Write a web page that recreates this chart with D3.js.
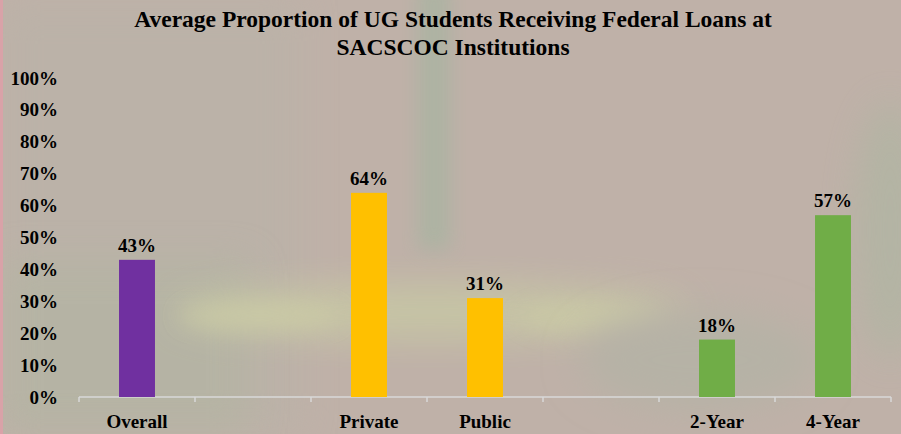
<!DOCTYPE html>
<html>
<head>
<meta charset="utf-8">
<script src="https://cdn.jsdelivr.net/npm/d3@7"></script>
<style>
  body { margin: 0; background: #bdb0a7; }
  svg { display: block; font-family: "Liberation Serif", "DejaVu Serif", serif; font-weight: bold; }
</style>
</head>
<body>
<div id="chart"></div>
<script>
// Chart data
var categories = ["Overall", "gap1", "Private", "Public", "gap2", "2-Year", "4-Year"];
var labels = ["Overall", "", "Private", "Public", "", "2-Year", "4-Year"];
var values = [43, null, 64, 31, null, 18, 57];
var yTicks = [0, 10, 20, 30, 40, 50, 60, 70, 80, 90, 100];
var titleLines = ["Average Proportion of UG Students Receiving Federal Loans at", "SACSCOC Institutions"];

// bar colours by category
var barColors = {"Overall": "#7030a0", "Private": "#ffc000", "Public": "#ffc000", "2-Year": "#70ad47", "4-Year": "#70ad47"};

var svgWidth = 901;
var svgHeight = 434;

var margin = {top: 78, right: 10, bottom: 37, left: 79};
var width = 891 - margin.left;
var height = 397 - margin.top;

var svg = d3.select("#chart")
  .append("svg")
  .attr("width", svgWidth)
  .attr("height", svgHeight);

// Blurry photo-like background
var defs = svg.append("defs");
defs.append("filter").attr("id", "blur").attr("x", "-50%").attr("y", "-50%").attr("width", "200%").attr("height", "200%")
  .append("feGaussianBlur").attr("stdDeviation", 18);
defs.append("filter").attr("id", "blur2").attr("x", "-50%").attr("y", "-50%").attr("width", "200%").attr("height", "200%")
  .append("feGaussianBlur").attr("stdDeviation", 10);

var bg = svg.append("g");
bg.append("rect").attr("width", svgWidth).attr("height", svgHeight).attr("fill", "#bfb1a8");
bg.append("rect").attr("x", 0).attr("y", 0).attr("width", 300).attr("height", 434).attr("fill", "#b9b3a8").attr("opacity", 0.6).attr("filter", "url(#blur)");
bg.append("rect").attr("x", 0).attr("y", 260).attr("width", 250).attr("height", 174).attr("fill", "#b2b5a2").attr("opacity", 0.6).attr("filter", "url(#blur)");
bg.append("rect").attr("x", 418).attr("y", -20).attr("width", 32).attr("height", 270).attr("fill", "#a8b4a1").attr("opacity", 0.8).attr("filter", "url(#blur2)");
bg.append("ellipse").attr("cx", 430).attr("cy", 312).attr("rx", 260).attr("ry", 28).attr("fill", "#c8c9a4").attr("opacity", 0.8).attr("filter", "url(#blur)");
bg.append("ellipse").attr("cx", 260).attr("cy", 316).attr("rx", 80).attr("ry", 14).attr("fill", "#cdcda6").attr("opacity", 0.6).attr("filter", "url(#blur2)");
bg.append("ellipse").attr("cx", 590).attr("cy", 318).attr("rx", 70).attr("ry", 16).attr("fill", "#cdcda6").attr("opacity", 0.5).attr("filter", "url(#blur2)");
bg.append("ellipse").attr("cx", 890).attr("cy", 230).attr("rx", 35).attr("ry", 130).attr("fill", "#b0b5a3").attr("opacity", 0.8).attr("filter", "url(#blur)");
bg.append("ellipse").attr("cx", 700).attr("cy", 360).attr("rx", 120).attr("ry", 50).attr("fill", "#b6b2a6").attr("filter", "url(#blur)");
bg.append("rect").attr("x", 0).attr("y", 0).attr("width", 3).attr("height", 434).attr("fill", "#d9a2a8");

var chartGroup = svg.append("g")
  .attr("transform", `translate(${margin.left}, ${margin.top})`);

// Scales
var xScale = d3.scaleBand()
  .domain(categories)
  .range([0, width])
  .paddingInner(0.69)
  .paddingOuter(0.345);

var yScale = d3.scaleLinear()
  .domain([0, 100])
  .range([height, 0]);

// Y labels (no axis line)
var yAxis = d3.axisLeft(yScale)
  .tickValues(yTicks)
  .tickFormat(d => d + "%")
  .tickSize(0)
  .tickPadding(21);

chartGroup.append("g")
  .call(yAxis)
  .call(g => g.select(".domain").remove())
  .selectAll("text")
  .attr("fill", "#000")
  .attr("font-family", "Liberation Serif, serif")
  .attr("font-weight", "bold")
  .attr("font-size", 19);

// X axis with boundary ticks
var xAxisG = chartGroup.append("g")
  .attr("transform", `translate(0, ${height})`);

xAxisG.append("line")
  .attr("x1", 0).attr("x2", width)
  .attr("stroke", "#d9d9d9").attr("stroke-width", 1.5);

var step = xScale.step();
xAxisG.selectAll(".tick-mark")
  .data(d3.range(categories.length + 1))
  .enter()
  .append("line")
  .attr("x1", i => i * step).attr("x2", i => i * step)
  .attr("y1", 0).attr("y2", 5)
  .attr("stroke", "#d9d9d9").attr("stroke-width", 1.5);

xAxisG.selectAll(".cat-label")
  .data(categories)
  .enter()
  .append("text")
  .attr("x", d => xScale(d) + xScale.bandwidth() / 2)
  .attr("y", 31)
  .attr("text-anchor", "middle")
  .attr("font-size", 19)
  .attr("fill", "#000")
  .text((d, i) => labels[i]);

// Bars
var barData = categories.map((c, i) => ({cat: c, value: values[i]})).filter(d => d.value != null);

chartGroup.selectAll(".bar")
  .data(barData)
  .enter()
  .append("rect")
  .attr("x", d => xScale(d.cat))
  .attr("y", d => yScale(d.value))
  .attr("width", xScale.bandwidth())
  .attr("height", d => height - yScale(d.value))
  .attr("fill", d => barColors[d.cat]);

// Value labels
chartGroup.selectAll(".val")
  .data(barData)
  .enter()
  .append("text")
  .attr("x", d => xScale(d.cat) + xScale.bandwidth() / 2)
  .attr("y", d => yScale(d.value) - 8)
  .attr("text-anchor", "middle")
  .attr("font-size", 19)
  .attr("fill", "#000")
  .text(d => d.value + "%");

// Title
svg.append("text")
  .attr("x", 453)
  .attr("y", 27)
  .attr("text-anchor", "middle")
  .attr("font-size", 23.5)
  .attr("fill", "#000")
  .selectAll("tspan")
  .data(titleLines)
  .enter()
  .append("tspan")
  .attr("x", 453)
  .attr("dy", (d, i) => i === 0 ? 0 : 28)
  .text(d => d);
</script>
</body>
</html>
